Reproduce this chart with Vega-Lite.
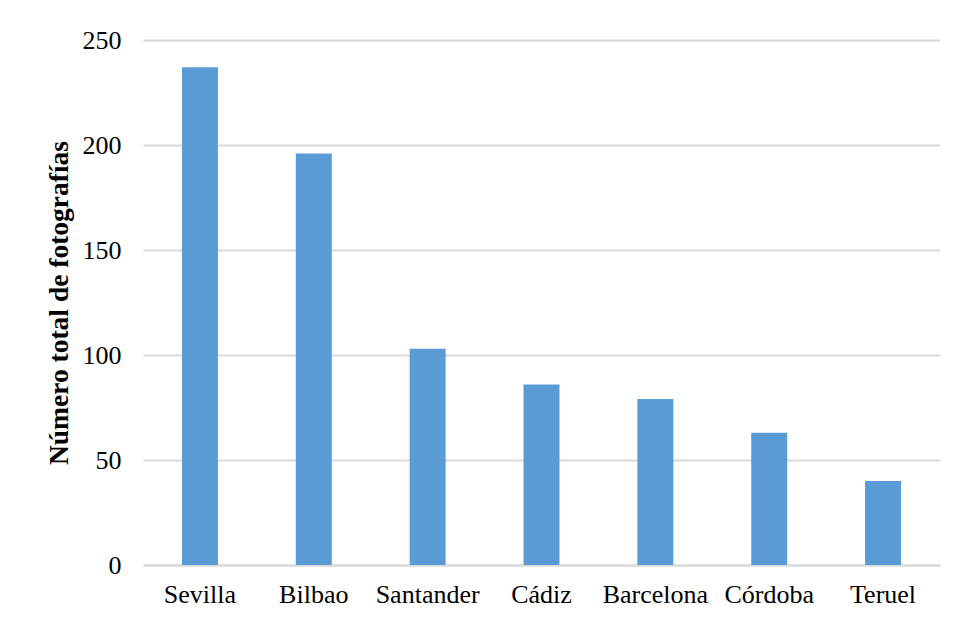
{
  "$schema": "https://vega.github.io/schema/vega-lite/v6.json",
  "width": 797,
  "height": 525,
  "autosize": {"type": "none"},
  "padding": {"left": 143, "top": 40, "right": 17, "bottom": 54},
  "background": "white",
  "data": {
    "values": [
      {"ciudad": "Sevilla", "fotos": 237},
      {"ciudad": "Bilbao", "fotos": 196},
      {"ciudad": "Santander", "fotos": 103},
      {"ciudad": "Cádiz", "fotos": 86},
      {"ciudad": "Barcelona", "fotos": 79},
      {"ciudad": "Córdoba", "fotos": 63},
      {"ciudad": "Teruel", "fotos": 40}
    ]
  },
  "mark": {"type": "bar", "color": "#5b9bd5"},
  "encoding": {
    "x": {
      "field": "ciudad",
      "type": "nominal",
      "sort": null,
      "scale": {"paddingInner": 0.684, "paddingOuter": 0.342},
      "axis": {
        "title": null,
        "labelAngle": 0,
        "labelFont": "Liberation Serif",
        "labelFontSize": 26,
        "labelColor": "#000000",
        "labelPadding": 16,
        "ticks": false,
        "domainColor": "#d9d9d9",
        "domainWidth": 2
      }
    },
    "y": {
      "field": "fotos",
      "type": "quantitative",
      "scale": {"domain": [0, 250]},
      "axis": {
        "title": "Número total de fotografías",
        "titleFont": "Liberation Serif",
        "titleFontSize": 27.5,
        "titleFontWeight": "bold",
        "titleColor": "#000000",
        "titlePadding": 9,
        "values": [0, 50, 100, 150, 200, 250],
        "labelFont": "Liberation Serif",
        "labelFontSize": 26,
        "labelColor": "#000000",
        "labelPadding": 22,
        "ticks": false,
        "domain": false,
        "gridColor": "#d9d9d9",
        "gridWidth": 2
      }
    }
  },
  "config": {"view": {"stroke": null}}
}
